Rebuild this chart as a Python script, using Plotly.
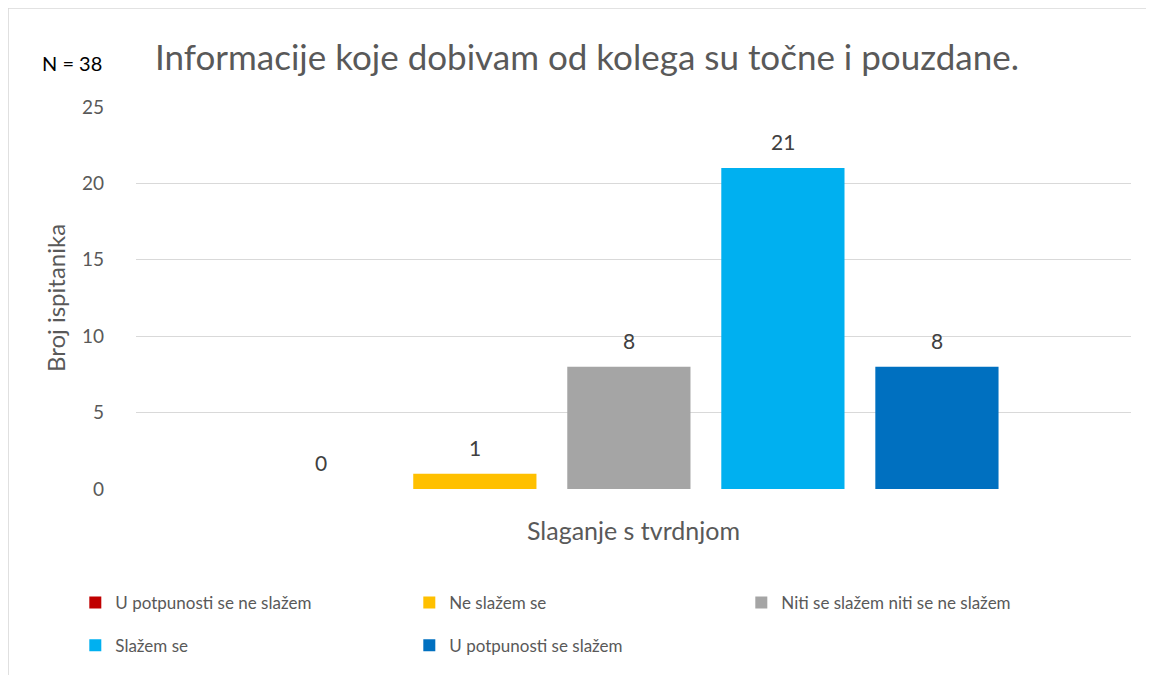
import plotly.graph_objects as go

categories = ["U potpunosti se ne slažem", "Ne slažem se", "Niti se slažem niti se ne slažem",
              "Slažem se", "U potpunosti se slažem"]
counts = [0, 1, 8, 21, 8]
colors = ["#C00000", "#FFC000", "#A5A5A5", "#00B0F0", "#0070C0"]
# which legend box (row / column slot) each series goes to
legend_slots = ["legend", "legend", "legend3", "legend2", "legend2"]

FONT = "Lato"
GREY = "#595959"

fig = go.Figure()
for name, val, col, lg in zip(categories, counts, colors, legend_slots):
    fig.add_trace(go.Bar(x=[name], y=[val], name=name, marker_color=col,
                         marker_line_width=0, width=0.8, legend=lg))

# data labels above each bar
for name, val in zip(categories, counts):
    fig.add_annotation(x=name, y=val, text=str(val), showarrow=False,
                       yanchor="bottom", yshift=12, font=dict(family=FONT, size=21, color="#404040"))

fig.add_annotation(text="N = 38", xref="paper", yref="paper", x=-0.0645, y=1.115,
                   xanchor="center", yanchor="middle",
                   showarrow=False, font=dict(family=FONT, size=20, color="black"))

# light frame round the chart area
fig.add_shape(type="rect", xref="paper", yref="paper", x0=-0.1286, x1=1.017, y0=-0.6, y1=1.259,
              line=dict(color="#D9D9D9", width=1.5), fillcolor="rgba(0,0,0,0)", layer="below")

legend_style = dict(orientation="h", xanchor="left", yanchor="middle", entrywidth=289,
                    entrywidthmode="pixels", traceorder="normal", itemwidth=30,
                    font=dict(family=FONT, size=17, color=GREY), bgcolor="rgba(0,0,0,0)")

fig.update_layout(
    width=1154, height=675,
    margin=dict(l=128, r=31, t=99, b=194),
    paper_bgcolor="white", plot_bgcolor="white",
    barmode="overlay",
    font=dict(family=FONT, size=19, color=GREY),
    title=dict(text="Informacije koje dobivam od kolega su točne i pouzdane.",
               xref="container", x=147 / 1154, xanchor="left",
               yref="container", y=1 - 50 / 675, yanchor="middle",
               font=dict(family=FONT, size=35, color=GREY)),
    xaxis=dict(showticklabels=False, showgrid=False, zeroline=False, showline=False,
               range=[-1.2, 5.26], ticks="",
               title=dict(text="Slaganje s tvrdnjom", standoff=33, font=dict(size=25, color=GREY))),
    yaxis=dict(range=[0, 25], dtick=5, gridcolor="#D9D9D9", gridwidth=1.3,
               zeroline=False, showline=False, ticks="", ticklabelstandoff=31,
               title=dict(text="Broj ispitanika", standoff=9, font=dict(size=24, color=GREY))),
    showlegend=True,
    legend=dict(legend_style, x=-0.061, y=-0.298),
    legend3=dict(legend_style, x=-0.061 + 2 * 333 / 995, y=-0.298),
    legend2=dict(legend_style, x=-0.061, y=-0.41),
)

fig.write_html("out.html")
